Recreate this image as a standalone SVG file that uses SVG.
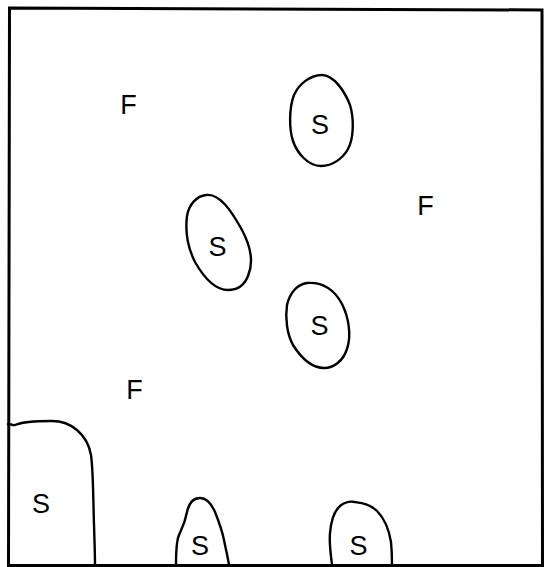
<svg xmlns="http://www.w3.org/2000/svg" width="544" height="567" viewBox="0 0 544 567">
<style>
.frame{fill:none;stroke:#000;stroke-width:3;stroke-linejoin:miter}
.blob{fill:none;stroke:#000;stroke-width:2.4;stroke-linejoin:round;stroke-linecap:round}
.lbl{font-family:"Liberation Sans",Arial,sans-serif;font-size:27px;fill:#000;text-anchor:middle}
</style>
<rect width="544" height="567" fill="#fff"/>
<path class="frame" d="M9.5,8 L542,10 L542.5,565.5 L8.5,565.5 Z"/>
<g id="connectors"></g>
<g id="F1"><text class="lbl" x="128.5" y="114">F</text></g>
<g id="F2"><text class="lbl" x="425.5" y="215">F</text></g>
<g id="F3"><text class="lbl" x="134.5" y="399">F</text></g>
<g id="S1">
<path class="blob" d="M322,75 C334,75 345,92 350,105 C354,118 354,138 348,149 C343,158 333,166 321,166 C308,166 297,153 293,141 C289,129 289,108 294,95 C299,84 310,75 322,75 Z"/>
<text class="lbl" x="320" y="134">S</text>
</g>
<g id="S2">
<path class="blob" d="M206,195 C220,193 232,212 242,230 C250,245 254,262 248,276 C244,286 236,290 228,290 C214,290 203,276 195,262 C188,248 185,232 187,216 C189,204 197,196 206,195 Z"/>
<text class="lbl" x="217.5" y="256">S</text>
</g>
<g id="S3">
<path class="blob" d="M307,283 C322,282 334,289 342,304 C348,316 352,334 347,349 C343,361 334,368 324,368 C311,368 300,356 293,345 C287,334 285,318 287,305 C290,292 298,284 307,283 Z"/>
<text class="lbl" x="319.5" y="335">S</text>
</g>
<g id="S4">
<path class="blob" d="M8,424 C10,423 12,426 15,425 C22,422 38,421 52,421 C62,421 70,424 77,430 C84,436 89,443 91,455 C93,470 93,490 93.5,505 C94,530 95,550 95,565"/>
<text class="lbl" x="41" y="513">S</text>
</g>
<g id="S5">
<path class="blob" d="M176,565 C176,553 176,542 179,535 C182,528 185,523 187,512 C189,503 193,498 200,498 C207,498 212,505 215,512 C219,522 222,530 224,540 C226,550 228,558 229,565"/>
<text class="lbl" x="200" y="555">S</text>
</g>
<g id="S6">
<path class="blob" d="M332,565 C331,555 329,545 330,533 C331,522 333,512 340,506 C345,502 350,501 355,502 C362,503 370,504 377,511 C385,519 389,530 391,542 C392,552 392,560 392,565"/>
<text class="lbl" x="358.5" y="555">S</text>
</g>
</svg>
